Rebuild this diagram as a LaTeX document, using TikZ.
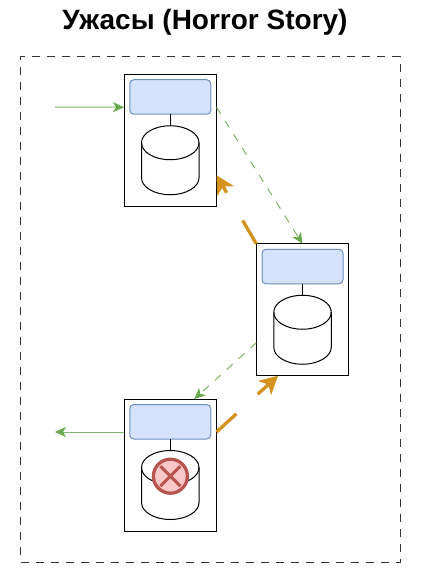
\documentclass[tikz,border=0pt]{standalone}
\usepackage{fontspec}
\setmainfont{Liberation Sans}
\usetikzlibrary{positioning,arrows.meta,shapes.misc}
\definecolor{flowgreen}{HTML}{82B366}
\definecolor{flowtip}{HTML}{6AA84F}
\definecolor{floworange}{HTML}{D6921E}
\definecolor{apifill}{HTML}{D4E3FB}
\definecolor{apiline}{HTML}{6C8EBF}
\definecolor{failfill}{HTML}{F8C8C8}
\definecolor{failline}{HTML}{B85450}
\definecolor{frameline}{HTML}{333333}
\newcommand{\drawdb}[1]{
	\draw[line width=1pt] ([yshift=-17pt]#1.north west) arc[start angle=180,end angle=0,x radius=28.75pt,y radius=17pt]
		-- ([yshift=17pt]#1.south east) arc[start angle=360,end angle=180,x radius=28.75pt,y radius=17pt] -- cycle;
	\draw[line width=1pt] ([yshift=-17pt]#1.north west) arc[start angle=180,end angle=360,x radius=28.75pt,y radius=17pt];
}
\tikzset{
	replica/.style={draw,line width=1pt,minimum width=92.5pt,minimum height=132pt,inner sep=0pt,outer sep=0pt},
	apibox/.style={draw=apiline,fill=apifill,rounded corners=4pt,line width=1pt,minimum width=81pt,minimum height=34.5pt,inner sep=0pt,outer sep=0pt},
	dbcyl/.style={minimum width=57.5pt,minimum height=69pt,inner sep=0pt,outer sep=0pt},
	userflow/.style={draw=flowgreen,line width=1pt,-{Stealth[length=11pt,width=10pt,inset=3pt,color=flowtip]}},
	syncflow/.style={userflow,dash pattern=on 8pt off 8pt},
	lagflow/.style={draw=floworange,line width=3.3pt,-{Stealth[length=18pt,width=19pt,inset=5pt]}},
}
\begin{document}
\begin{tikzpicture}[x=1pt,y=-1pt]
\useasboundingbox (0,0) rectangle (420,575);
\node[font=\bfseries\fontsize{28}{32}\selectfont] (title) at (205,22) {Ужасы (Horror Story)};
\node[draw=frameline,dash pattern=on 8pt off 7pt,line width=1pt,minimum width=379.5pt,minimum height=505.5pt,inner sep=0pt] (frame) at (210.5,309.5) {};
% replicas
\node[replica] (box1) at (170.25,140.25) {};
\node[apibox,below=5.5pt of box1.north] (api1) {};
\node[dbcyl,below=11.5pt of api1] (db1) {};
\node[replica] (box2) at (302.5,309.75) {};
\node[apibox,below=5.5pt of box2.north] (api2) {};
\node[dbcyl,below=11.5pt of api2] (db2) {};
\node[replica] (box3) at (170.25,465) {};
\node[apibox,below=5.5pt of box3.north] (api3) {};
\node[dbcyl,below=11.5pt of api3] (db3) {};
\drawdb{db1}
\drawdb{db2}
\drawdb{db3}
\draw[line width=1pt] (api1) -- (db1);
\draw[line width=1pt] (api2) -- (db2);
\draw[line width=1pt] (api3) -- (db3);
% failed disk
\node[draw=failline,fill=failfill,circle,line width=3.3pt,minimum size=34pt,inner sep=0pt] (fail) at (170.4,476.2) {};
\node[draw=failline,cross out,line width=3pt,minimum size=17pt,inner sep=0pt] (cross) at (fail) {};
% flows
\coordinate (clientin) at (55,107);
\coordinate (clientout) at (55,432);
\draw[userflow] (clientin) -- ([yshift=33pt]box1.west);
\draw[userflow] ([yshift=33pt]box3.west) -- (clientout);
\draw[syncflow] ([yshift=33pt]box1.east) -- (box2.north);
\draw[syncflow] ([yshift=-33pt]box2.west) -- ([xshift=24pt]box3.north);
\draw[lagflow,dash pattern=on 27pt off 32pt on 40pt] (box2.north west) -- ([yshift=-35pt]box1.east);
\draw[lagflow,dash pattern=on 27pt off 29pt on 40pt] ([yshift=33pt]box3.east) -- ([xshift=-24.5pt]box2.south);
\end{tikzpicture}
\end{document}
